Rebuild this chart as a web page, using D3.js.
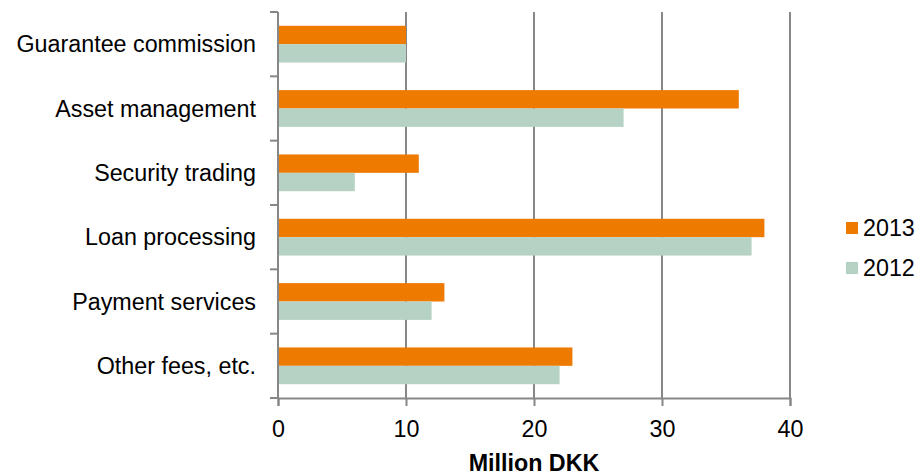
<!DOCTYPE html>
<html><head><meta charset="utf-8">
<script src="https://cdn.jsdelivr.net/npm/d3@7"></script>
<style>body{margin:0;background:#fff}svg{display:block}text{font-family:"Liberation Sans",Arial,sans-serif;fill:#000}</style>
</head><body>
<script>
const categories = ["Guarantee commission","Asset management","Security trading","Loan processing","Payment services","Other fees, etc."];
const seriesNames = ["2013","2012"];
const values2013 = [10,36,11,38,13,23];
const values2012 = [10,27,6,37,12,22];
const xTicks = [0,10,20,30,40];
const xTitle = "Million DKK";
const colors = {"2013":"#EE7A00","2012":"#B5D2C4"};

const W=918,H=475;
const m={left:278,right:128,top:12,bottom:77};
const FS=23.3;
const svg=d3.select("body").append("svg").attr("width",W).attr("height",H);
const x=d3.scaleLinear().domain([0,40]).range([m.left,W-m.right]);
const y=d3.scaleBand().domain(categories).range([m.top,H-m.bottom]);
const data=categories.map((c,i)=>({c,v:{"2013":values2013[i],"2012":values2012[i]}}));
const gridColor="#878787";

// gridlines
svg.append("g").selectAll("line").data(xTicks.slice(1)).join("line")
 .attr("x1",d=>x(d)).attr("x2",d=>x(d)).attr("y1",m.top).attr("y2",H-m.bottom)
 .attr("stroke",gridColor).attr("stroke-width",2);

// bars
const bw=y.bandwidth()/3.5;
const inner=d3.scaleBand().domain(seriesNames).range([0,2*bw]);
const g=svg.append("g");
data.forEach(d=>{
  seriesNames.forEach(s=>{
    g.append("rect").attr("x",x(0)).attr("y",y(d.c)+bw*0.75+inner(s))
     .attr("width",x(d.v[s])-x(0)).attr("height",inner.bandwidth())
     .attr("fill",colors[s]);
  });
});

// left axis
const yl=svg.append("g");
yl.append("line").attr("x1",x(0)).attr("x2",x(0)).attr("y1",m.top).attr("y2",H-m.bottom).attr("stroke",gridColor).attr("stroke-width",2);
const bounds=d3.range(categories.length+1).map(i=>m.top+i*y.step());
yl.selectAll(".t").data(bounds).join("line").attr("x1",x(0)-8).attr("x2",x(0)).attr("y1",d=>d).attr("y2",d=>d).attr("stroke",gridColor).attr("stroke-width",2);
yl.selectAll("text").data(categories).join("text").attr("x",x(0)-22).attr("y",d=>y(d)+y.bandwidth()/2).attr("dy","0.35em").attr("text-anchor","end").attr("font-size",FS).text(d=>d);

// bottom axis
const xa=svg.append("g").attr("transform",`translate(0,${H-m.bottom})`)
 .call(d3.axisBottom(x).tickValues(xTicks).tickSize(8).tickPadding(14).tickFormat(d3.format("d")));
xa.select(".domain").attr("stroke",gridColor).attr("stroke-width",2);
xa.selectAll(".tick line").attr("stroke",gridColor).attr("stroke-width",2);
xa.selectAll(".tick text").attr("font-size",FS).attr("font-family","Liberation Sans, Arial, sans-serif").attr("fill","#000");

svg.append("text").attr("x",x(20)).attr("y",471).attr("text-anchor","middle").attr("font-size",FS).attr("font-weight","bold").text(xTitle);

// legend
const lg=svg.append("g").selectAll("g").data(seriesNames).join("g").attr("transform",(d,i)=>`translate(846,${222+i*40})`);
lg.append("rect").attr("width",12).attr("height",12).attr("fill",d=>colors[d]);
lg.append("text").attr("x",17).attr("y",6).attr("dy","0.35em").attr("font-size",FS).text(d=>d);
</script>
</body></html>
